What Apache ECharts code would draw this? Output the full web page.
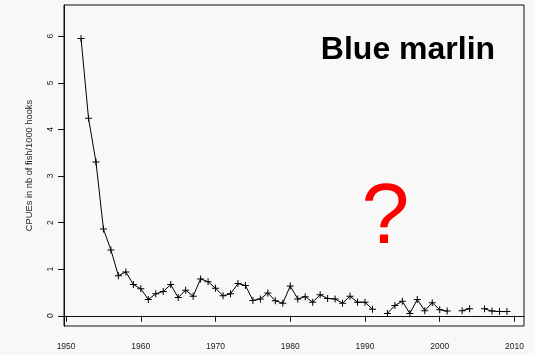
<!DOCTYPE html>
<html>
<head>
<meta charset="utf-8">
<script src="https://cdn.jsdelivr.net/npm/echarts@6/dist/echarts.min.js"></script>
<style>
  html, body { margin: 0; padding: 0; background: #f8f8f8; }
  #chart { width: 535px; height: 355px; }
</style>
</head>
<body>
<div id="chart"></div>
<script>
// Blue marlin CPUE series (fish per 1000 hooks); null = no survey that year
const years = [
  1952, 1953, 1954, 1955, 1956, 1957, 1958, 1959, 1960, 1961,
  1962, 1963, 1964, 1965, 1966, 1967, 1968, 1969, 1970, 1971,
  1972, 1973, 1974, 1975, 1976, 1977, 1978, 1979, 1980, 1981,
  1982, 1983, 1984, 1985, 1986, 1987, 1988, 1989, 1990, 1991,
  1992, 1993, 1994, 1995, 1996, 1997, 1998, 1999, 2000, 2001,
  2002, 2003, 2004, 2005, 2006, 2007, 2008, 2009
];
const cpue = [
  5.95, 4.24, 3.30, 1.86, 1.41, 0.86, 0.94, 0.67, 0.58, 0.35,
  0.47, 0.52, 0.67, 0.39, 0.55, 0.42, 0.79, 0.73, 0.59, 0.43,
  0.47, 0.69, 0.65, 0.33, 0.36, 0.49, 0.32, 0.27, 0.64, 0.36,
  0.41, 0.29, 0.45, 0.37, 0.36, 0.27, 0.42, 0.29, 0.29, 0.14,
  null, 0.05, 0.22, 0.31, 0.05, 0.35, 0.11, 0.28, 0.13, 0.10,
  null, 0.11, 0.15, null, 0.15, 0.10, 0.09, 0.09
];
const xTicks = [1950, 1960, 1970, 1980, 1990, 2000, 2010];
const yTicks = [0, 1, 2, 3, 4, 5, 6];

const titleText = 'Blue marlin';
const yTitle = 'CPUEs in nb of fish/1000 hooks';

const FONT = '"Liberation Sans", Arial, sans-serif';
const plusSymbol = 'path://M3,0H4V7H3Z M0,3H7V4H0Z';

const seriesData = years.map((y, i) => [y, cpue[i] == null ? '-' : cpue[i]]);

const chart = echarts.init(document.getElementById('chart'), null, { renderer: 'canvas' });
chart.setOption({
  backgroundColor: 'transparent',
  animation: false,
  grid: {
    left: 64, top: 5, right: 11, bottom: 29,
    show: true, borderColor: '#111', borderWidth: 1, backgroundColor: 'transparent'
  },
  xAxis: {
    type: 'value',
    min: 1949.72, max: 2011.28,
    splitLine: { show: false },
    axisLine: { show: true, lineStyle: { color: '#111', width: 1 } },
    axisTick: { show: true, customValues: xTicks, length: 6, lineStyle: { color: '#111' } },
    axisLabel: {
      customValues: xTicks, margin: 16,
      formatter: v => String(v),
      fontFamily: FONT, fontSize: 8.5, color: '#222'
    }
  },
  yAxis: {
    type: 'value',
    min: -0.22, max: 6.67,
    name: yTitle,
    nameLocation: 'middle',
    nameGap: 30,
    nameTextStyle: { fontFamily: FONT, fontSize: 9.3, color: '#222' },
    splitLine: { show: false },
    axisLine: { show: true, lineStyle: { color: '#111', width: 1 } },
    axisTick: { show: true, customValues: yTicks, length: 6, lineStyle: { color: '#111' } },
    axisLabel: {
      customValues: yTicks, rotate: 90, margin: 9,
      formatter: v => String(v),
      fontFamily: FONT, fontSize: 8.5, color: '#222'
    }
  },
  series: [{
    type: 'line',
    data: seriesData,
    connectNulls: false,
    symbol: plusSymbol,
    symbolSize: 7,
    showAllSymbol: true,
    lineStyle: { color: '#000', width: 1 },
    itemStyle: { color: '#000' }
  }],
  graphic: [
    {
      type: 'text', x: 408, y: 50,
      style: {
        text: titleText, fill: '#000',
        font: 'bold 32px ' + FONT,
        textAlign: 'center', textVerticalAlign: 'middle'
      }
    },
    {
      type: 'text', x: 385.5, y: 219.5,
      style: {
        text: '?', fill: '#ff0000',
        font: '86px ' + FONT,
        textAlign: 'center', textVerticalAlign: 'middle'
      }
    }
  ]
});
</script>
</body>
</html>
